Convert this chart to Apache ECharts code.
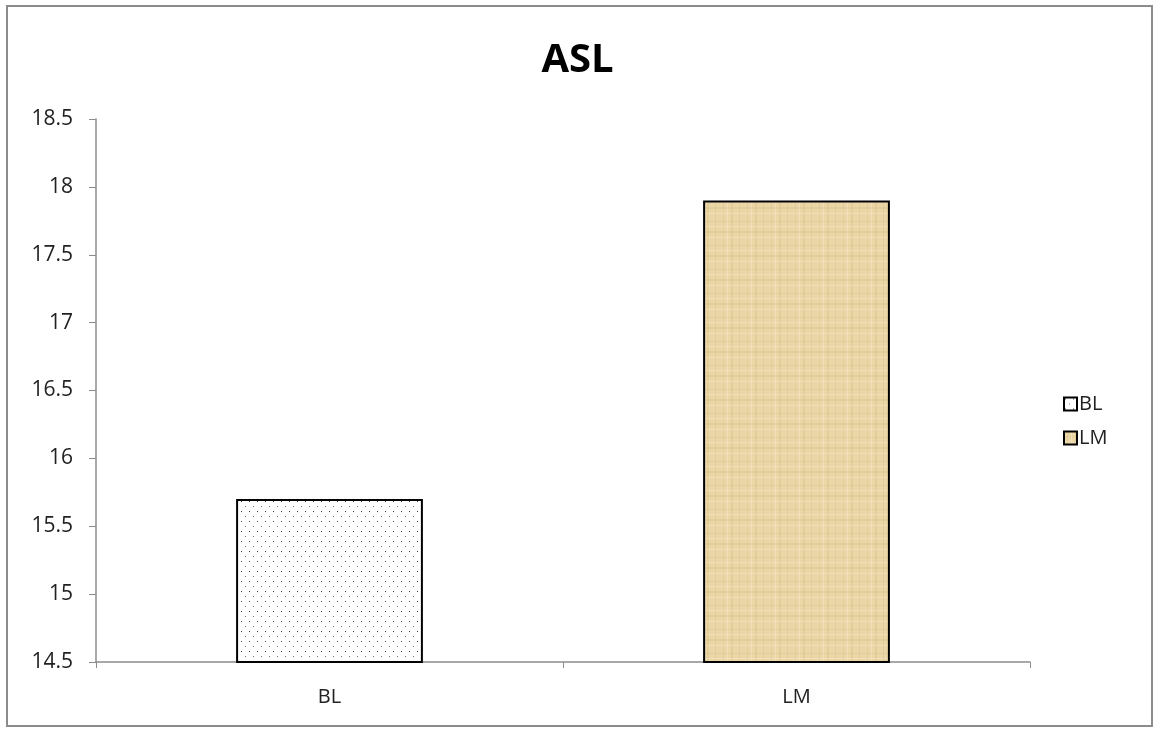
<!DOCTYPE html>
<html><head><meta charset="utf-8">
<script src="https://cdn.jsdelivr.net/npm/echarts@6/dist/echarts.min.js"></script>
<style>html,body{margin:0;padding:0;background:#fff}#c{width:1155px;height:729px}</style>
</head><body><div id="c"></div>
<script>
const categories = ['BL', 'LM'];
const seriesNames = ['BL', 'LM'];
const values = [15.7, 17.9];
const yTicks = {min: 14.5, max: 18.5, interval: 0.5};
const titleText = 'ASL';

function dotPattern() {
  const c = document.createElement('canvas');
  c.width = 16; c.height = 10;
  const g = c.getContext('2d');
  g.fillStyle = '#ffffff'; g.fillRect(0, 0, 16, 10);
  g.fillStyle = '#444';
  g.fillRect(1, 1, 1, 1); g.fillRect(9, 1, 1, 1);
  g.fillStyle = '#777';
  g.fillRect(5, 6, 1, 1); g.fillRect(13, 6, 1, 1);
  return c;
}
function texturePattern() {
  const c = document.createElement('canvas');
  c.width = 24; c.height = 24;
  const g = c.getContext('2d');
  g.fillStyle = '#EAD6A6'; g.fillRect(0, 0, 24, 24);
  g.fillStyle = 'rgba(210,185,130,0.3)';
  g.fillRect(3, 0, 1, 24); g.fillRect(11, 0, 2, 24); g.fillRect(19, 0, 1, 24);
  g.fillRect(0, 5, 24, 1); g.fillRect(0, 15, 24, 2);
  g.fillStyle = 'rgba(245,232,200,0.5)';
  g.fillRect(7, 0, 1, 24); g.fillRect(0, 10, 24, 1); g.fillRect(0, 21, 24, 1);
  return c;
}
const fills = [
  {image: dotPattern(), repeat: 'repeat'},
  {image: texturePattern(), repeat: 'repeat'}
];

const font = '"Open Sans", "Liberation Sans", sans-serif';
const chart = echarts.init(document.getElementById('c'), null, {renderer: 'canvas'});
chart.setOption({
  animation: false,
  backgroundColor: '#fff',
  title: {text: titleText, left: 'center', top: 36,
    textStyle: {fontFamily: font, fontWeight: 'bold', fontSize: 40, color: '#000'}},
  graphic: [{type: 'rect', shape: {x: 7, y: 6, width: 1145, height: 720},
    style: {fill: 'none', stroke: '#8c8c8c', lineWidth: 2}, silent: true}],
  legend: {orient: 'vertical', left: 1058, top: 389, itemGap: 14,
    itemWidth: 13, itemHeight: 13, icon: 'rect', data: seriesNames,
    textStyle: {fontFamily: font, fontSize: 20, color: '#222', padding: [0,0,0,-3]}},
  grid: {left: 96, right: 125, top: 119, bottom: 67, containLabel: false},
  xAxis: {type: 'category', data: categories,
    axisLine: {lineStyle: {color: '#8c8c8c', width: 1.5}},
    axisTick: {show: true, alignWithLabel: false, length: 6, lineStyle: {color: '#8c8c8c'}},
    axisLabel: {fontFamily: font, fontSize: 20, color: '#222', margin: 25}},
  yAxis: {type: 'value', min: yTicks.min, max: yTicks.max, interval: yTicks.interval,
    splitLine: {show: false},
    axisLine: {show: true, lineStyle: {color: '#8c8c8c', width: 1.5}},
    axisTick: {show: true, length: 7, lineStyle: {color: '#8c8c8c'}},
    axisLabel: {fontFamily: font, fontSize: 21, color: '#222', margin: 23,
      formatter: v => String(Math.round(v * 10) / 10)}},
  series: seriesNames.map((name, i) => ({
    name, type: 'bar', barWidth: '40%', barGap: '-100%',
    data: categories.map((c, j) => j === i ? values[i] : '-'),
    itemStyle: {color: fills[i], borderColor: '#000', borderWidth: 2}
  }))
});
</script></body></html>
